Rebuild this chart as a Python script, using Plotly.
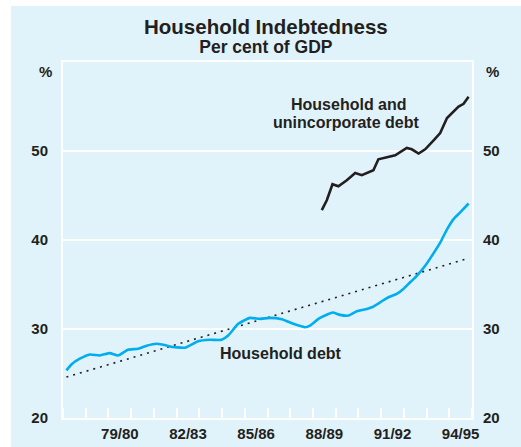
import plotly.graph_objects as go

# ---- data ----
hh_years = [1977.65, 1977.87, 1978.24, 1978.68, 1979.12, 1979.56, 1979.92, 1980.36,
            1980.81, 1981.18, 1981.62, 1982.06, 1982.20, 1982.86, 1983.45, 1983.97,
            1984.48, 1984.77, 1985.21, 1985.73, 1986.17, 1986.61, 1987.13, 1987.64,
            1988.15, 1988.37, 1988.74, 1989.03, 1989.37, 1989.69, 1990.06, 1990.43,
            1990.87, 1991.09, 1991.46, 1991.82, 1992.19, 1992.48, 1992.78, 1993.08,
            1993.44, 1993.74, 1994.10, 1994.40, 1994.69, 1994.98, 1995.35]
hh_debt = [25.35, 26.02, 26.66, 27.14, 27.03, 27.29, 27.03, 27.67,
           27.78, 28.12, 28.34, 28.15, 28.04, 27.90, 28.63, 28.79,
           28.79, 29.27, 30.58, 31.25, 31.14, 31.25, 31.10, 30.58,
           30.20, 30.39, 31.14, 31.51, 31.85, 31.59, 31.51, 32.00,
           32.26, 32.44, 33.00, 33.57, 33.94, 34.50, 35.25, 36.00,
           37.10, 38.24, 39.70, 41.20, 42.35, 43.10, 44.10]

hu_years = [1988.89, 1989.11, 1989.36, 1989.62, 1989.99, 1990.36, 1990.65, 1991.16,
            1991.38, 1991.68, 1992.12, 1992.63, 1992.85, 1993.15, 1993.44, 1993.81,
            1994.10, 1994.40, 1994.69, 1994.91, 1995.13, 1995.35]
hu_debt = [43.35, 44.47, 46.27, 46.04, 46.72, 47.53, 47.28, 47.84,
           49.07, 49.22, 49.52, 50.34, 50.19, 49.71, 50.19, 51.20,
           52.02, 53.70, 54.45, 55.00, 55.30, 56.10]

trend_years = [1977.65, 1995.35]
trend_vals = [24.6, 37.95]

x_tick_vals = [1980, 1983, 1986, 1989, 1992, 1995]
x_tick_text = ["79/80", "82/83", "85/86", "88/89", "91/92", "94/95"]
y_tick_vals = [20, 30, 40, 50]

# ---- styling ----
PANEL = "#e0f2fa"
BLUE = "#00aeef"
DARK = "#231f20"
FONT = "Arial, Liberation Sans, sans-serif"

W, H = 521, 447
L, R, T, B = 63, 49, 62, 29
pw, ph = W - L - R, H - T - B


def px_x(px):
    return (px - L) / pw


def px_y(py):
    return (H - B - py) / ph


fig = go.Figure()

fig.add_trace(go.Scatter(x=trend_years, y=trend_vals, mode="lines",
                         line=dict(color=DARK, width=1.6, dash="2px,5px"),
                         hoverinfo="skip", showlegend=False))
fig.add_trace(go.Scatter(x=hh_years, y=hh_debt, mode="lines",
                         line=dict(color=BLUE, width=2.6, shape="spline", smoothing=0.5),
                         showlegend=False))
fig.add_trace(go.Scatter(x=hu_years, y=hu_debt, mode="lines",
                         line=dict(color=DARK, width=2.6),
                         showlegend=False))
# invisible trace to activate right axis
fig.add_trace(go.Scatter(x=[1977.5], y=[20], yaxis="y2", mode="markers",
                         marker=dict(opacity=0), hoverinfo="skip", showlegend=False))

tickfont = dict(family=FONT, size=15, color=DARK, weight="bold")

fig.update_layout(
    width=W, height=H,
    margin=dict(l=L, r=R, t=T, b=B, pad=0),
    paper_bgcolor="white",
    plot_bgcolor="rgba(0,0,0,0)",
    showlegend=False,
    xaxis=dict(range=[1977.5, 1995.5], tickvals=x_tick_vals, ticktext=x_tick_text,
               ticks="", showgrid=False, zeroline=False, automargin=False,
               showline=True, linecolor="white", linewidth=2, mirror=True,
               tickfont=tickfont, ticklabelstandoff=1,
               minor=dict(tick0=1978.5, dtick=1, ticks="inside", ticklen=10,
                          tickcolor="white", tickwidth=2, showgrid=False)),
    yaxis=dict(range=[20, 60], tickvals=y_tick_vals, ticks="", automargin=False,
               showgrid=True, gridcolor="white", gridwidth=2, zeroline=False,
               showline=True, linecolor="white", linewidth=2, mirror=True,
               tickfont=tickfont, ticklabelstandoff=10),
    yaxis2=dict(range=[20, 60], tickvals=y_tick_vals, ticks="", overlaying="y",
                side="right", showgrid=False, zeroline=False, showline=False,
                automargin=False, tickfont=tickfont, ticklabelstandoff=10),
    shapes=[dict(type="rect", xref="paper", yref="paper", layer="below",
                 x0=px_x(11), x1=px_x(W + 5), y0=px_y(H + 5), y1=px_y(6),
                 fillcolor=PANEL, line=dict(width=0))],
)

ann = []


def add_text(text, x, y, size, xref="paper", yref="paper"):
    ann.append(dict(text=text, x=x, y=y, xref=xref, yref=yref, showarrow=False,
                    xanchor="center", yanchor="middle",
                    font=dict(family=FONT, size=size, color=DARK, weight="bold")))


add_text("<span style='font-size:20.5px'>Household Indebtedness</span><br>"
         "<span style='font-size:17.5px'>Per cent of GDP</span>",
         px_x(265.5), px_y(35.5), 14.6)
add_text("%", px_x(45), px_y(71), 15)
add_text("%", px_x(492), px_y(71), 15)
add_text("Household and", 1990.07, 55.28, 16, xref="x", yref="y")
add_text("unincorporate debt", 1989.96, 53.18, 16, xref="x", yref="y")
add_text("Household debt", 1987.09, 27.29, 16, xref="x", yref="y")
fig.update_layout(annotations=ann)

fig.write_html("out.html", config={"displayModeBar": False},
               post_script="document.body.style.margin='0';")
